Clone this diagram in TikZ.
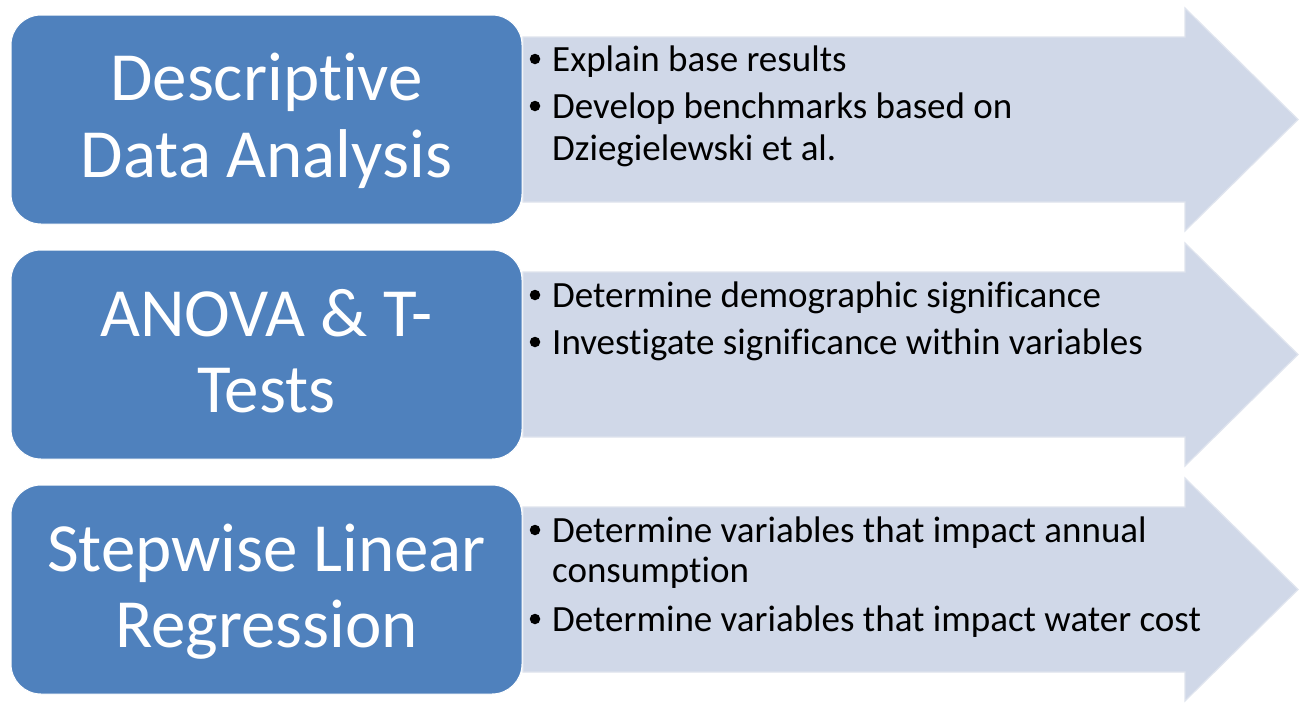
\documentclass[tikz,border=0pt]{standalone}
\usepackage{fontspec}
\setmainfont{Carlito}[Ligatures=NoCommon]
\newcommand{\nolig}{\kern0pt{}}
\definecolor{boxblue}{HTML}{4F81BD}
\definecolor{arrowfill}{HTML}{D0D8E8}
\definecolor{arrowedge}{HTML}{DFE4EE}
\tikzset{
  titlebox/.style={fill=boxblue, draw=white, line width=1pt, rounded corners=30pt,
    inner sep=0pt, outer sep=0pt, minimum width=511pt, minimum height=209pt},
  arrowshape/.style={fill=arrowfill, draw=arrowedge, line width=1.2pt, line join=miter},
  titletext/.style={text=white, font=\fontsize{69}{76}\selectfont, anchor=base, inner sep=0pt},
  bullettext/.style={text=black, font=\fontsize{37}{42}\selectfont, anchor=base west, inner sep=0pt},
  bulletdot/.style={circle, fill=black, inner sep=0pt, minimum size=10.5pt}
}
\begin{document}
\begin{tikzpicture}[x=1pt,y=-1pt]
\useasboundingbox (0,0) rectangle (1302,702);
\fill[white] (0,0) rectangle (1302,702);
% arrows and title boxes
\foreach \r/\o in {1/0,2/235,3/470}{
  \draw[arrowshape] (523,{37+\o}) -- (1185,{37+\o}) -- (1185,{8+\o}) -- (1298,{119.5+\o})
    -- (1185,{231+\o}) -- (1185,{202+\o}) -- (523,{202+\o}) -- cycle;
  \node[titlebox] (box\r) at (266.5,{119.5+\o}) {};
}
% titles
\node[titletext] (t1a) at (266.5,100) {Descript\nolig ive};
\node[titletext] (t1b) at (266.5,177) {Data Analysis};
\node[titletext] (t2a) at (266.5,336) {ANOVA \& T-};
\node[titletext] (t2b) at (266.5,412) {Tests};
\node[titletext] (t3a) at (266.5,571) {Stepwise Linear};
\node[titletext] (t3b) at (266.5,647) {Regression};
% bullets row 1
\node[bulletdot] (b1a) at (535,59) {};
\node[bullettext] (l1a) at (552,71) {Explain base results};
\node[bulletdot] (b1b) at (535,106) {};
\node[bullettext] (l1b) at (552,118) {Develop benchmarks based on};
\node[bullettext] (l1c) at (552,160) {Dziegielewski et al.};
% bullets row 2
\node[bulletdot] (b2a) at (535,295) {};
\node[bullettext] (l2a) at (552,307) {Determine demographic signif\nolig icance};
\node[bulletdot] (b2b) at (535,342) {};
\node[bullettext] (l2b) at (552,354) {Investigate signif\nolig icance within variables};
% bullets row 3
\node[bulletdot] (b3a) at (535,530) {};
\node[bullettext] (l3a) at (552,542) {Determine variables that impact annual};
\node[bullettext] (l3b) at (552,582) {consumpt\nolig ion};
\node[bulletdot] (b3b) at (535,619) {};
\node[bullettext] (l3c) at (552,631) {Determine variables that impact water cost};
\end{tikzpicture}
\end{document}
